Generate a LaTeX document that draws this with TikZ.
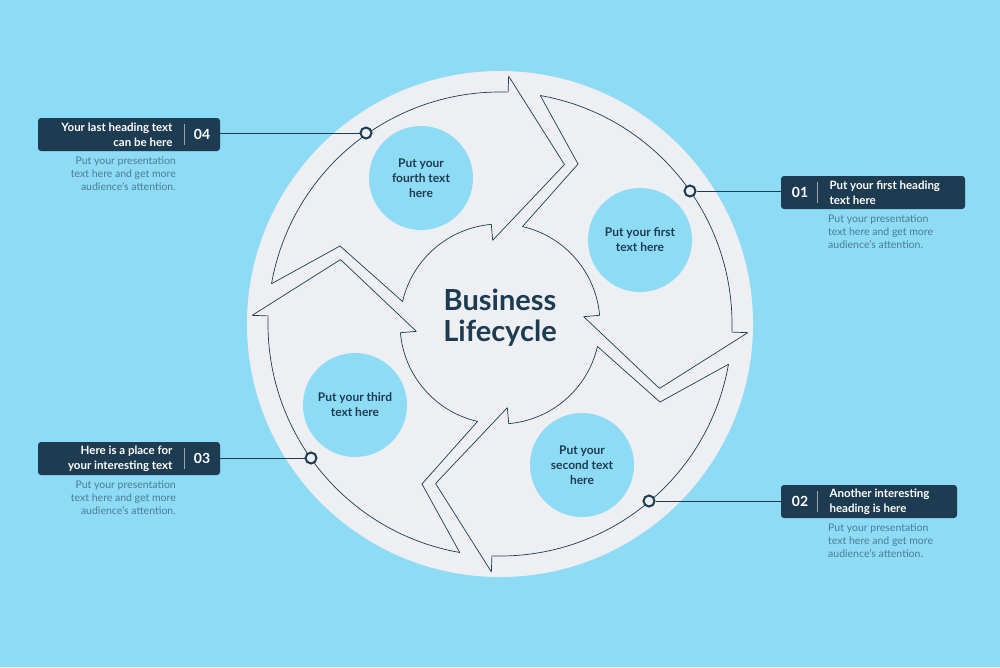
\documentclass[tikz,border=0pt]{standalone}
\usepackage{fontspec}
\setmainfont{Lato}
\definecolor{bg}{HTML}{8EDBF5}
\definecolor{navy}{HTML}{1D3C52}
\definecolor{disc}{HTML}{EEEFF2}
\definecolor{desc}{HTML}{4A7C98}
\begin{document}
\begin{tikzpicture}[x=1pt,y=-1pt,
  arrowline/.style={draw=navy,line width=0.7pt,line join=round},
  blob/.style={circle,fill=bg,minimum size=104pt,inner sep=0pt,text=navy,font=\bfseries\fontsize{12}{15}\selectfont,align=center},
  dot/.style={circle,draw=navy,line width=2pt,fill=disc,minimum size=11pt,inner sep=0pt},
  headbox/.style={rounded corners=3pt,fill=navy,text=white,font=\bfseries\fontsize{11.5}{14}\selectfont,minimum height=33pt,inner sep=0pt},
  desctext/.style={text=desc,font=\fontsize{10.5}{13}\selectfont},
  link/.style={draw=navy,line width=0.7pt}]
\fill[bg] (0,0) rectangle (1000,667);
\useasboundingbox (0,0) rectangle (1000,667);
\fill[disc] (500,324) circle[radius=253];
\begin{scope}[shift={(500,324)},x=1pt,y=1pt]
\foreach \p in {90,0,-90,180}{
  \draw[arrowline] (\p+80:232) arc[start angle=\p+80,end angle=\p-2,radius=232]
    -- (\p-2:248) -- (\p-22:172) -- (\p+5:84) -- (\p+5:100)
    arc[start angle=\p+5,end angle=\p+77,radius=100] -- (\p+64:178) -- cycle;
}
\end{scope}
\node[text=navy,font=\bfseries\fontsize{29}{31}\selectfont,align=center] (title) at (500,318) {Business\\Lifecycle};
\node[blob] (b4) at (421,178) {Put your\\fourth text\\here};
\node[blob] (b1) at (640,240) {Put your first\\text here};
\node[blob] (b3) at (355,405) {Put your third\\text here};
\node[blob] (b2) at (582,465) {Put your\\second text\\here};
\node[dot] (d4) at (366,133) {};
\node[dot] (d1) at (690,191) {};
\node[dot] (d3) at (311,458) {};
\node[dot] (d2) at (649,501) {};
\node[headbox,minimum width=182pt] (h4) at (129,134.5) {};
\node[headbox,minimum width=184pt] (h1) at (873,192.5) {};
\node[headbox,minimum width=182pt] (h3) at (129,458.5) {};
\node[headbox,minimum width=176pt] (h2) at (869,501.5) {};
\draw[white!55!navy,line width=0.6pt] (184,124) -- (184,145);
\draw[white!55!navy,line width=0.6pt] (184,448) -- (184,469);
\draw[white!55!navy,line width=0.6pt] (817,182) -- (817,203);
\draw[white!55!navy,line width=0.6pt] (817,491) -- (817,512);
\node[text=white,font=\bfseries\fontsize{14}{16}\selectfont] at (202,134.5) {04};
\node[text=white,font=\bfseries\fontsize{14}{16}\selectfont] at (202,458.5) {03};
\node[text=white,font=\bfseries\fontsize{14}{16}\selectfont] at (800,192.5) {01};
\node[text=white,font=\bfseries\fontsize{14}{16}\selectfont] at (800,501.5) {02};
\node[text=white,font=\bfseries\fontsize{11.5}{15}\selectfont,align=right,anchor=east] at (176,134.5) {Your last heading text\\can be here};
\node[text=white,font=\bfseries\fontsize{11.5}{15}\selectfont,align=right,anchor=east] at (176,458.5) {Here is a place for\\your interesting text};
\node[text=white,font=\bfseries\fontsize{11.5}{15}\selectfont,align=left,anchor=west] at (826,192.5) {Put your first heading\\text here};
\node[text=white,font=\bfseries\fontsize{11.5}{15}\selectfont,align=left,anchor=west] at (826,501.5) {Another interesting\\heading is here};
\node[desctext,align=right,anchor=north east,inner sep=0pt] at (176,157) {Put your presentation\\text here and get more\\audience's attention.};
\node[desctext,align=right,anchor=north east,inner sep=0pt] at (176,481) {Put your presentation\\text here and get more\\audience's attention.};
\node[desctext,align=left,anchor=north west,inner sep=0pt] at (828,215) {Put your presentation\\text here and get more\\audience's attention.};
\node[desctext,align=left,anchor=north west,inner sep=0pt] at (828,524) {Put your presentation\\text here and get more\\audience's attention.};
\draw[link] (d4) -- (h4.east|-d4);
\draw[link] (d3) -- (h3.east|-d3);
\draw[link] (d1) -- (h1.west|-d1);
\draw[link] (d2) -- (h2.west|-d2);
\end{tikzpicture}
\end{document}
